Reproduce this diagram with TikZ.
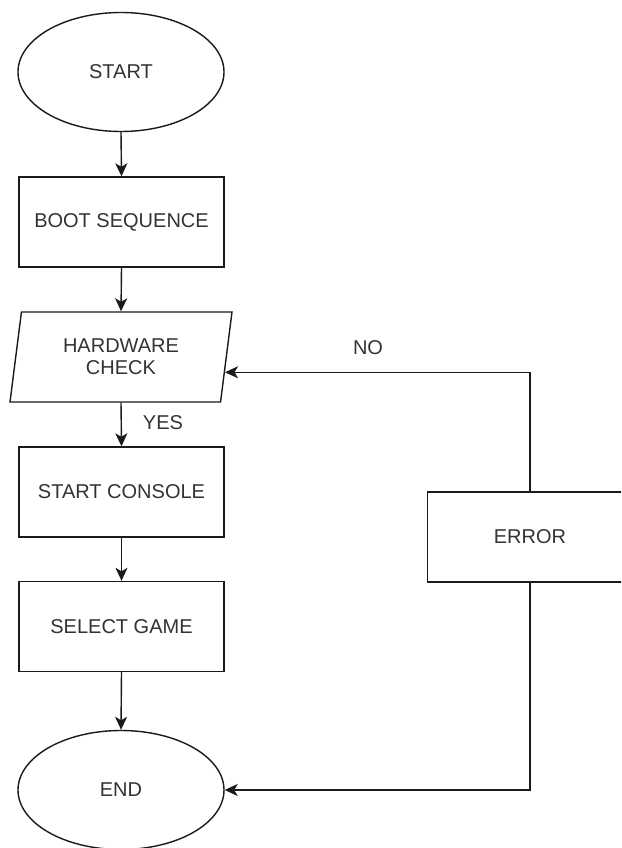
\documentclass[tikz,border=0pt]{standalone}
\usepackage{fontspec}
\setmainfont{Liberation Sans}
\usetikzlibrary{shapes.geometric,arrows.meta,calc}

\definecolor{linecol}{HTML}{1A1A1A}
\definecolor{textcol}{HTML}{333333}

\tikzset{
  base/.style={draw=linecol, line width=1.4pt, text=textcol,
    font=\fontsize{20}{22}\selectfont, align=center, inner sep=2pt},
  terminal/.style={base, ellipse, minimum width=206pt, minimum height=119pt},
  process/.style={base, rectangle, minimum width=205pt, minimum height=90pt},
  io/.style={base, trapezium, trapezium left angle=74, trapezium right angle=106,
    trapezium stretches body, minimum width=222pt, minimum height=90pt},
  flow/.style={draw=linecol, line width=1.4pt,
    -{Stealth[length=13pt,width=12pt,inset=3.5pt]}},
  lbl/.style={text=textcol, font=\fontsize{20}{22}\selectfont, inner sep=0pt}
}

\begin{document}
\begin{tikzpicture}[x=1pt,y=-1pt]
  \clip (0,0) rectangle (621,848);
  \fill[white] (0,0) rectangle (621,848);

  % main column
  \node[terminal] (start)   at (121,72)    {START};
  \node[process]  (boot)    at (121.5,222) {BOOT SEQUENCE};
  \node[io]       (hw)      at (121,357)   {HARDWARE\\CHECK};
  \node[process]  (console) at (121.5,492) {START CONSOLE};
  \node[process]  (select)  at (121.5,626.5) {SELECT GAME};
  \node[terminal] (finish)  at (121,790)   {END};

  % error branch
  \node[process]  (error)   at (530,537)   {ERROR};

  % entry point of the NO loop on the slanted side of the check
  \coordinate (hwin) at ($(hw.bottom right corner)!0.333!(hw.top right corner)$);

  \draw[flow] (start.south) -- (boot.north);
  \draw[flow] (boot.south) -- (hw.north);
  \draw[flow] (hw.south) -- (console.north);
  \draw[flow] (console.south) -- (select.north);
  \draw[flow] (select.south) -- (finish.north);
  \draw[flow] (error.north) -- (error.north |- hwin) -- (hwin);
  \draw[flow] (error.south) |- (finish.east);

  \node[lbl] (yes) at (163,423) {YES};
  \node[lbl] (no)  at (368,348) {NO};
\end{tikzpicture}
\end{document}
